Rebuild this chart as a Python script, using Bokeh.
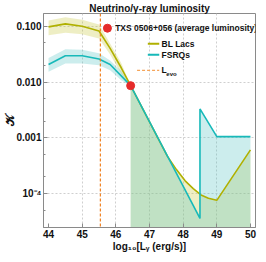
import numpy as np
from bokeh.plotting import figure
from bokeh.models import FixedTicker, Span
from bokeh.core.properties import value
from bokeh.embed import file_html
from bokeh.resources import INLINE

# ---------------- data ----------------
# BL Lacs: central curve with uncertainty band up to the TXS point
bl_x = [44.0, 44.5, 45.0, 45.5, 45.83, 46.16, 46.44]
bl_k = [0.097, 0.110, 0.100, 0.082, 0.040, 0.018, 0.0086]
bl_hi = [0.126, 0.144, 0.130, 0.107, 0.049, 0.022, 0.0086]
bl_lo = [0.069, 0.076, 0.072, 0.060, 0.031, 0.014, 0.0086]
# BL Lacs: beyond the TXS point
bl_tail_x = [46.44, 47.53, 47.8, 48.06, 48.3, 48.53, 48.75, 49.0, 50.0]
bl_tail_k = [0.0086, 4.7e-4, 2.7e-4, 1.7e-4, 1.23e-4, 9.5e-5, 8.3e-5, 7.6e-5, 6.1e-4]

# FSRQs
fs_x = [44.0, 44.5, 45.0, 45.5, 45.83, 46.16, 46.44]
fs_k = [0.0206, 0.0296, 0.0296, 0.0258, 0.0206, 0.0129, 0.0086]
fs_hi = [0.0268, 0.0385, 0.0380, 0.0329, 0.0242, 0.0158, 0.0086]
fs_lo = [0.0153, 0.0215, 0.0215, 0.0200, 0.0162, 0.0108, 0.0086]
fs_tail_x = [46.44, 48.5, 48.5, 49.0, 50.0]
fs_tail_k = [0.0086, 3.6e-5, 3.3e-3, 1.05e-3, 1.05e-3]

# TXS 0506+056 (average luminosity)
txs_x = [46.44]
txs_k = [0.0086]

# L_evo
l_evo = 45.54

x_ticks = [44, 45, 46, 47, 48, 49, 50]
x_grid = [45, 46, 47, 48, 49]
y_ticks = [1e-4, 1e-3, 1e-2, 1e-1]
y_tick_labels = ["10⁻⁴", "0.001", "0.010", "0.100"]
y_minor = [2e-5, 5e-5, 2e-4, 5e-4, 2e-3, 5e-3, 2e-2, 5e-2]

# ---------------- styling ----------------
OLIVE = "#b0b000"
TEAL = "#17b9b9"
BL_FILL = (198, 198, 58)
FS_FILL = (85, 195, 195)
ORANGE = "#f08020"
RED = "#e52b2b"
FRAME = "#8a8a8a"
FONT = "Liberation Sans"
FLOOR = 1e-7

p = figure(width=258, height=254, x_range=(43.85, 50.15), y_range=(2.48e-5, 0.1686),
           y_axis_type="log", output_backend="svg", toolbar_location=None,
           title="Neutrino/γ-ray luminosity",
           min_border_left=0, min_border_right=3, min_border_top=0, min_border_bottom=0)

p.title.text_font = FONT
p.title.text_font_size = "10px"
p.title.text_font_style = "bold"
p.title.align = "center"
p.title.standoff = 0
p.title.text_color = "#111111"

# fills (yellow first, cyan on top -> green where they overlap)
p.varea(x=bl_x, y1=bl_lo, y2=bl_hi, fill_color=BL_FILL, fill_alpha=0.3)
p.varea(x=bl_tail_x, y1=[FLOOR] * len(bl_tail_x), y2=bl_tail_k, fill_color=BL_FILL, fill_alpha=0.3)
p.varea(x=fs_x, y1=fs_lo, y2=fs_hi, fill_color=FS_FILL, fill_alpha=0.3)
p.varea(x=fs_tail_x, y1=[FLOOR] * len(fs_tail_x), y2=fs_tail_k, fill_color=FS_FILL, fill_alpha=0.3)

# L_evo
p.add_layout(Span(location=l_evo, dimension="height", line_color=ORANGE,
                  line_dash="3 2", line_width=1.2))

# curves
p.line(bl_x + bl_tail_x[1:], bl_k + bl_tail_k[1:], line_color=OLIVE, line_width=1.6)
p.line(fs_x + fs_tail_x[1:], fs_k + fs_tail_k[1:], line_color=TEAL, line_width=1.6)

p.scatter(txs_x, txs_k, size=8, fill_color=RED, line_color=RED)

# legend (drawn by hand, Mathematica style)
lab = dict(text_font=value(FONT), text_font_size="8.5px", text_font_style="bold",
           text_baseline="middle", text_color="#111111")
p.scatter([45.75], [0.092], size=8, fill_color=RED, line_color=RED)
p.text([45.98], [0.092], text=["TXS 0506+056 (average luminosity)"], **lab)
p.line([46.95, 47.29], [0.0485, 0.0485], line_color=OLIVE, line_width=2)
p.text([47.36], [0.0485], text=["BL Lacs"], **lab)
p.line([46.95, 47.29], [0.0308, 0.0308], line_color=TEAL, line_width=2)
p.text([47.36], [0.0308], text=["FSRQs"], **lab)
p.line([46.63, 47.29], [0.0162, 0.0162], line_color="#f5a55a", line_width=1.2, line_dash="3 2")
p.text([47.36], [0.0162], text=["L"], **lab)
p.text([47.5], [0.0138], text=["evo"], text_font=value(FONT), text_font_size="6px",
       text_font_style="bold", text_baseline="middle", text_color="#111111")

# grid
p.xgrid.ticker = FixedTicker(ticks=x_grid)
p.ygrid.ticker = FixedTicker(ticks=y_ticks)
for g in (p.xgrid, p.ygrid):
    g.grid_line_color = "#cfcfcf"
    g.grid_line_dash = "2 2"
    g.grid_line_width = 1

# axes
p.xaxis.ticker = FixedTicker(ticks=x_ticks)
p.yaxis.ticker = FixedTicker(ticks=y_ticks, minor_ticks=y_minor)
p.yaxis.major_label_overrides = dict(zip(y_ticks, y_tick_labels))
p.xaxis.axis_label = "log₁₀[Lᵧ (erg/s)]"
p.yaxis.axis_label = "𝒦"
for ax in (p.xaxis, p.yaxis):
    ax.axis_line_color = FRAME
    ax.major_tick_line_color = FRAME
    ax.minor_tick_line_color = FRAME
    ax.major_tick_in = 4
    ax.major_tick_out = 0
    ax.minor_tick_in = 2
    ax.minor_tick_out = 0
    ax.major_label_text_font = FONT
    ax.major_label_text_font_size = "10px"
    ax.major_label_text_font_style = "bold"
    ax.major_label_text_color = "#111111"
    ax.major_label_standoff = 2
    ax.axis_label_text_font = FONT
    ax.axis_label_text_font_style = "bold"
    ax.axis_label_text_color = "#111111"
p.xaxis.axis_label_text_font_size = "10px"
p.xaxis.axis_label_standoff = 0
p.yaxis.axis_label_text_font_size = "12px"
p.yaxis.axis_label_standoff = -4

p.outline_line_color = FRAME

open("out.html", "w").write(file_html(p, INLINE))
